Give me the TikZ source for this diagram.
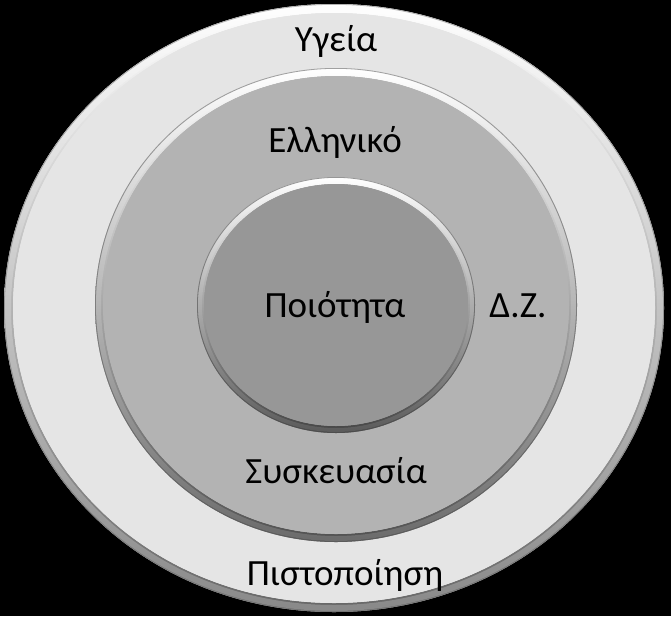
\documentclass[tikz,border=0pt]{standalone}
\usepackage{fontspec}
\setmainfont{Carlito}
\definecolor{outerc}{RGB}{229,229,229}
\definecolor{midc}{RGB}{179,179,179}
\definecolor{innc}{RGB}{151,151,151}
\tikzset{
  lbl/.style={anchor=base, inner sep=0pt, font=\fontsize{37}{40}\selectfont, text=black},
}
\newcommand\bevelring[6]{% cx, cy, rx, ry, width, color
  \fill[#6] (#1,#2) ellipse [x radius=#3, y radius=#4];
  \shade[even odd rule, shading angle=45, top color=white, middle color=#6, bottom color=#6!45!black]
    (#1,#2) ellipse [x radius=#3, y radius=#4]
    (#1,#2) ellipse [x radius=#3-#5, y radius=#4-#5];
  \shade[even odd rule, shading angle=45, top color=white, middle color=#6, bottom color=#6!70!black, opacity=0.6]
    (#1,#2) ellipse [x radius=#3-1, y radius=#4-1]
    (#1,#2) ellipse [x radius=#3-#5+2, y radius=#4-#5+2];
  \fill[#6] (#1,#2) ellipse [x radius=#3-#5, y radius=#4-#5];
  \draw[#6!55!black, line width=0.8pt, opacity=0.6] (#1,#2) ellipse [x radius=#3-0.4, y radius=#4-0.4];
}
\begin{document}
\begin{tikzpicture}[x=1pt,y=-1pt]
\fill[black] (0,0) rectangle (671,616);
\useasboundingbox (0,0) rectangle (671,616);
\bevelring{334}{308}{330}{304}{9}{outerc}
\bevelring{336}{305}{241}{237}{8}{midc}
\bevelring{336}{305}{139}{128}{7}{innc}
\node[lbl] (ygeia) at (336,51) {Υγεία};
\node[lbl] (elliniko) at (335,152) {Ελληνικό};
\node[lbl] (poiotita) at (335,317) {Ποιότητα};
\node[lbl] (dz) at (518,317) {Δ.Ζ.};
\node[lbl] (syskevasia) at (336,483) {Συσκευασία};
\node[lbl] (pistopoiisi) at (345,585) {Πιστοποίηση};
\end{tikzpicture}
\end{document}
